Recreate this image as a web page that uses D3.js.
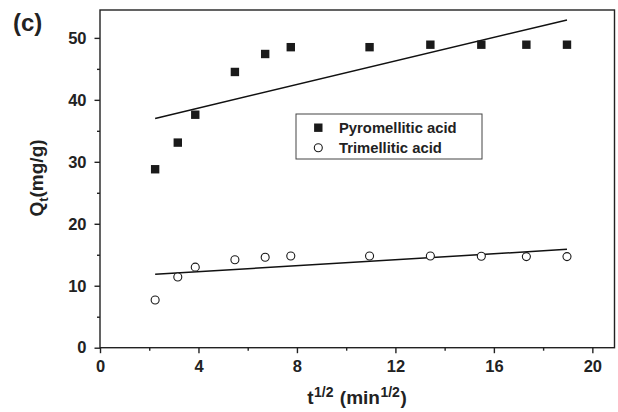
<!DOCTYPE html>
<html>
<head>
<meta charset="utf-8">
<script src="https://cdn.jsdelivr.net/npm/d3@7"></script>
<style>
  html, body { margin: 0; padding: 0; background: #fff; }
  svg { display: block; font-family: "Liberation Sans", Arial, sans-serif; font-weight: bold; }
</style>
</head>
<body>
<svg id="chart" width="618" height="412"></svg>
<script>
// ---- data ----
const sqrtT = [2.24, 3.16, 3.87, 5.48, 6.71, 7.75, 10.95, 13.42, 15.49, 17.32, 18.97];
const pyromellitic = [28.8, 33.1, 37.6, 44.5, 47.4, 48.5, 48.5, 48.9, 48.9, 48.9, 48.9];
const trimellitic = [7.7, 11.4, 13.0, 14.2, 14.6, 14.8, 14.8, 14.8, 14.75, 14.7, 14.7];
const pyroFitX = [2.24, 18.97];
const pyroFitY = [37.0, 52.9];
const trimFitX = [2.24, 18.97];
const trimFitY = [11.85, 15.87];
const xTicks = [0, 4, 8, 12, 16, 20];
const xMinorTicks = [2, 6, 10, 14, 18];
const yTicks = [0, 10, 20, 30, 40, 50];
const yMinorTicks = [5, 15, 25, 35, 45];
const seriesNames = ["Pyromellitic acid", "Trimellitic acid"];

// ---- layout ----
const svg = d3.select("#chart");
const L = 100, R = 614.5, T = 10, B = 347.7;
const x = d3.scaleLinear().domain([0, 20.9]).range([L, R]);
const y = d3.scaleLinear().domain([0, 54.5]).range([B, T]);
const axisColor = "#222";

// frame
svg.append("rect").attr("x", L).attr("y", T).attr("width", R - L).attr("height", B - T)
  .attr("fill", "none").attr("stroke", axisColor).attr("stroke-width", 1.4);

// x axis
const xAxis = svg.append("g").attr("transform", `translate(0,${B})`)
  .call(d3.axisBottom(x).tickValues(xTicks).tickSize(5.5).tickPadding(7).tickFormat(d3.format("d")));
xAxis.select(".domain").remove();
xAxis.selectAll("line").attr("stroke", axisColor).attr("stroke-width", 1.4);
xAxis.selectAll("text").attr("font-size", 16.5).attr("font-weight", "bold").attr("fill", "#222")
  .attr("font-family", "Liberation Sans, Arial, sans-serif");
const xMinor = svg.append("g").attr("transform", `translate(0,${B})`)
  .call(d3.axisBottom(x).tickValues(xMinorTicks).tickSize(3).tickFormat(""));
xMinor.select(".domain").remove();
xMinor.selectAll("line").attr("stroke", axisColor).attr("stroke-width", 1.4);

// y axis
const yAxis = svg.append("g").attr("transform", `translate(${L},0)`)
  .call(d3.axisLeft(y).tickValues(yTicks).tickSize(5.5).tickPadding(8).tickFormat(d3.format("d")));
yAxis.select(".domain").remove();
yAxis.selectAll("line").attr("stroke", axisColor).attr("stroke-width", 1.4);
yAxis.selectAll("text").attr("font-size", 16.5).attr("font-weight", "bold").attr("fill", "#222")
  .attr("font-family", "Liberation Sans, Arial, sans-serif");
const yMinor = svg.append("g").attr("transform", `translate(${L},0)`)
  .call(d3.axisLeft(y).tickValues(yMinorTicks).tickSize(3).tickFormat(""));
yMinor.select(".domain").remove();
yMinor.selectAll("line").attr("stroke", axisColor).attr("stroke-width", 1.4);

// fit lines
const line = d3.line().x(d => x(d[0])).y(d => y(d[1]));
svg.append("path").datum(d3.zip(pyroFitX, pyroFitY)).attr("d", line)
  .attr("fill", "none").attr("stroke", "#111").attr("stroke-width", 1.5);
svg.append("path").datum(d3.zip(trimFitX, trimFitY)).attr("d", line)
  .attr("fill", "none").attr("stroke", "#111").attr("stroke-width", 1.5);

// markers
const sq = 8.4;
svg.append("g").selectAll("rect").data(d3.zip(sqrtT, pyromellitic)).join("rect")
  .attr("x", d => x(d[0]) - sq / 2).attr("y", d => y(d[1]) - sq / 2)
  .attr("width", sq).attr("height", sq).attr("fill", "#1a1a1a");
svg.append("g").selectAll("circle").data(d3.zip(sqrtT, trimellitic)).join("circle")
  .attr("cx", d => x(d[0])).attr("cy", d => y(d[1])).attr("r", 4)
  .attr("fill", "#fff").attr("stroke", "#1a1a1a").attr("stroke-width", 1.1);

// legend
const lg = svg.append("g");
lg.append("rect").attr("x", 296).attr("y", 114).attr("width", 186).attr("height", 45)
  .attr("fill", "#fff").attr("stroke", "#444").attr("stroke-width", 1);
lg.append("rect").attr("x", 318.3 - sq / 2).attr("y", 127.7 - sq / 2).attr("width", sq).attr("height", sq)
  .attr("fill", "#1a1a1a");
lg.append("circle").attr("cx", 318.3).attr("cy", 147.7).attr("r", 4)
  .attr("fill", "#fff").attr("stroke", "#1a1a1a").attr("stroke-width", 1.1);
lg.selectAll("text").data(seriesNames).join("text")
  .attr("x", 339).attr("y", (d, i) => 133 + i * 20)
  .attr("font-size", 14.8).attr("fill", "#222").text(d => d);

// axis titles
const xt = svg.append("text").attr("x", 357).attr("y", 404).attr("text-anchor", "middle")
  .attr("font-size", 19).attr("fill", "#222");
xt.append("tspan").text("t");
xt.append("tspan").attr("font-size", 14).attr("dx", 0.5).attr("dy", -7).text("1/2");
xt.append("tspan").attr("dy", 7).attr("dx", 1).text(" (min");
xt.append("tspan").attr("font-size", 14).attr("dx", 0.5).attr("dy", -7).text("1/2");
xt.append("tspan").attr("dy", 7).attr("dx", 0.5).text(")");

const yt = svg.append("text").attr("transform", "translate(43,178) rotate(-90)")
  .attr("text-anchor", "middle").attr("font-size", 19).attr("fill", "#222");
yt.append("tspan").text("Q");
yt.append("tspan").attr("font-size", 13).attr("dy", 5).text("t");
yt.append("tspan").attr("dy", -5).text("(mg/g)");

// panel label
svg.append("text").attr("x", 13).attr("y", 31).attr("font-size", 24).attr("fill", "#222").text("(c)");
</script>
</body>
</html>
